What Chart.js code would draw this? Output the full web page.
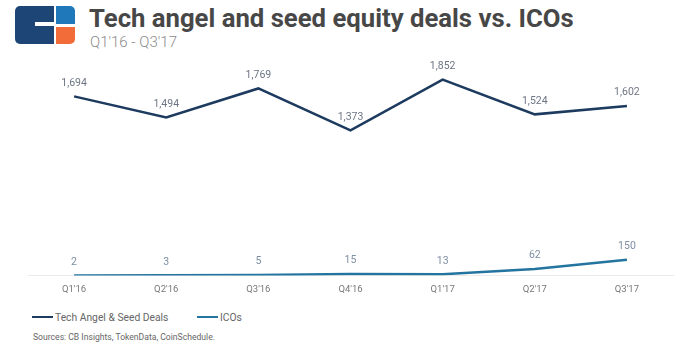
<!DOCTYPE html>
<html>
<head>
<meta charset="utf-8">
<script src="https://cdn.jsdelivr.net/npm/chart.js@4"></script>
<style>
  body { margin: 0; background: #fff; font-family: Roboto, "Open Sans", sans-serif; }
  #wrap { position: relative; width: 691px; height: 364px; overflow: hidden; }
  .logo div { position: absolute; }
  #title { position: absolute; left: 89px; top: 3px; font-size: 25.7px; font-weight: bold; color: #474747; }
  #sub { position: absolute; left: 90px; top: 33px; font-size: 15px; font-weight: 300; color: #8a8a8a; }
  #chartBox { position: absolute; left: 0; top: 55px; width: 691px; height: 248px; }
  .leg { position: absolute; top: 311px; font-size: 10.3px; color: #666; }
  .leg span { display: inline-block; width: 21px; height: 2px; vertical-align: middle; margin-right: 2px; margin-top: -2px; }
  #src { position: absolute; left: 33px; top: 332px; font-size: 8.6px; color: #666; }
</style>
</head>
<body>
<div id="wrap">
  <div class="logo">
    <div style="left:15px;top:6px;width:39px;height:38px;background:#1d4676;border-radius:5px 0 0 5px;"></div>
    <div style="left:35px;top:22px;width:19px;height:4px;background:#fff;"></div>
    <div style="left:56px;top:6px;width:19px;height:18px;background:#1f78ba;border-radius:0 5px 0 0;"></div>
    <div style="left:56px;top:27px;width:19px;height:17px;background:#f26c3a;border-radius:0 0 5px 0;"></div>
  </div>
  <div id="title">Tech angel and seed equity deals vs. ICOs</div>
  <div id="sub">Q1'16 - Q3'17</div>
  <div id="chartBox"><canvas id="c"></canvas></div>
  <div class="leg" style="left:32px;"><span style="background:#1d3a5f;"></span>Tech Angel &amp; Seed Deals</div>
  <div class="leg" style="left:197px;"><span style="background:#2474a0;"></span>ICOs</div>
  <div id="src">Sources: CB Insights, TokenData, CoinSchedule.</div>
</div>
<script>
const quarters = ["Q1'16", "Q2'16", "Q3'16", "Q4'16", "Q1'17", "Q2'17", "Q3'17"];
const techDeals = [1694, 1494, 1769, 1373, 1852, 1524, 1602];
const icoDeals = [2, 3, 5, 15, 13, 62, 150];

// draws the value above each point
const valueLabels = {
  id: 'valueLabels',
  afterDatasetsDraw(chart) {
    const ctx = chart.ctx;
    ctx.save();
    ctx.font = '10.5px Roboto, sans-serif';
    ctx.textAlign = 'center';
    ctx.textBaseline = 'bottom';
    chart.data.datasets.forEach(function(ds, i) {
      ctx.fillStyle = ds.labelColor;
      chart.getDatasetMeta(i).data.forEach(function(pt, j) {
        ctx.fillText(ds.data[j].toLocaleString('en-US'), pt.x, pt.y - 8);
      });
    });
    ctx.restore();
  }
};

new Chart(document.getElementById('c'), {
  type: 'line',
  data: {
    labels: quarters,
    datasets: [
      { label: 'Tech Angel & Seed Deals', data: techDeals, borderColor: '#1d3a5f', borderWidth: 2.5,
        pointRadius: 0, tension: 0, labelColor: '#6d7584' },
      { label: 'ICOs', data: icoDeals, borderColor: '#2474a0', borderWidth: 2.5,
        pointRadius: 0, tension: 0, labelColor: '#7d8fa3' }
    ]
  },
  options: {
    responsive: true,
    maintainAspectRatio: false,
    animation: false,
    layout: { padding: { left: 28, right: 18, top: 9, bottom: 0 } },
    plugins: { legend: { display: false }, tooltip: { enabled: false } },
    scales: {
      x: {
        offset: true,
        grid: { display: false, drawTicks: false },
        border: { color: '#ebebeb', width: 1 },
        ticks: { color: '#777', font: { size: 9.5, family: 'Roboto, sans-serif' }, padding: 8 }
      },
      y: {
        display: false,
        min: 0,
        max: 2000
      }
    }
  },
  plugins: [valueLabels]
});
</script>
</body>
</html>
